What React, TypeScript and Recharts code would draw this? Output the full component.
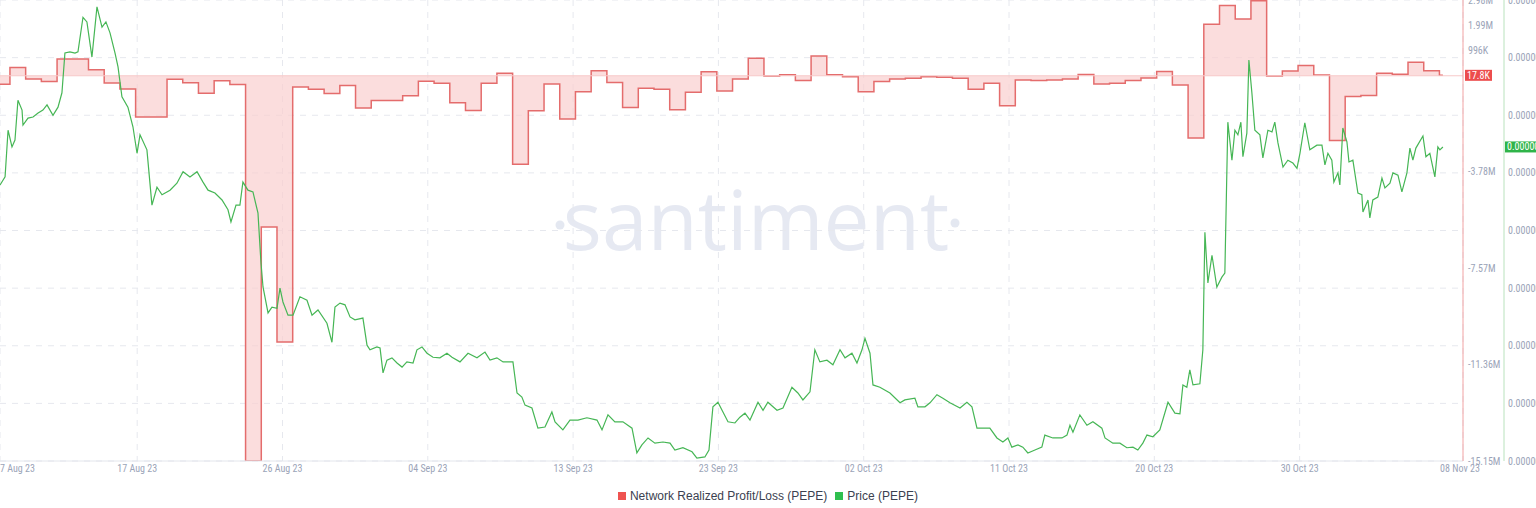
import { ComposedChart, Area, Line, XAxis, YAxis, CartesianGrid, ReferenceLine } from 'recharts'

// time is in days counted from 1 Aug 2023 00:00
const X_TICKS = [7.367, 16.1, 25.35, 34.6, 43.85, 53.1, 62.35, 71.6, 80.85, 90.1, 100.5]
const X_TICK_LABELS = ['07 Aug 23', '17 Aug 23', '26 Aug 23', '04 Sep 23', '13 Sep 23', '23 Sep 23', '02 Oct 23', '11 Oct 23', '20 Oct 23', '30 Oct 23', '08 Nov 23']

// Network Realized Profit/Loss, one value per day (millions), first day = 7
const PL_START_DAY = 7
const PL_END_DAY = 99.22
const PL_VALUES_M = [
  -0.33, 0.33, -0.13, -0.23, 0.66, 0.66, 0.24, -0.28, -0.52, -1.62,
  -1.62, -0.14, -0.27, -0.69, -0.2, -0.34, -15.15, -5.95, -10.47, -0.44,
  -0.53, -0.7, -0.38, -1.27, -0.97, -0.97, -0.79, -0.22, -0.29, -1.06,
  -1.37, -0.29, 0.1, -3.48, -1.38, -0.32, -1.7, -0.63, 0.2, -0.26,
  -1.25, -0.49, -0.53, -1.34, -0.65, 0.16, -0.6, -0.13, 0.69, -0.01,
  0.04, -0.19, 0.78, 0.04, -0.04, -0.63, -0.23, -0.13, -0.1, -0.04,
  -0.06, -0.1, -0.53, -0.29, -1.18, -0.17, -0.19, -0.17, -0.13, 0.05,
  -0.32, -0.29, -0.19, -0.09, 0.17, -0.36, -2.45, 2.03, 2.76, 2.23,
  2.95, -0.01, 0.19, 0.4, 0.03, -2.55, -0.82, -0.78, 0.1, 0.06,
  0.53, 0.2, 0.0178,
]

// Price (PEPE), in units of 1e-8 USD
const PRICE_DAYS = [
  7.37, 7.69, 7.88, 8.13, 8.32, 8.51, 8.77, 8.83, 9.15, 9.47,
  9.79, 10.1, 10.36, 10.74, 11.06, 11.31, 11.5, 11.82, 12.14, 12.33,
  12.65, 12.9, 13.22, 13.54, 13.86, 14.11, 14.37, 14.69, 14.88, 15.13,
  15.51, 15.83, 16.09, 16.28, 16.72, 17.04, 17.36, 17.68, 18.19, 18.63,
  19.02, 19.46, 19.91, 20.29, 20.61, 21.05, 21.5, 21.88, 22.07, 22.39,
  22.64, 22.83, 23.15, 23.47, 23.79, 23.98, 24.11, 24.43, 24.68, 25.0,
  25.19, 25.38, 25.7, 26.02, 26.46, 26.91, 27.23, 27.61, 28.18, 28.5,
  28.69, 29.01, 29.33, 29.65, 29.96, 30.47, 30.73, 30.92, 31.36, 31.56,
  31.75, 32.0, 32.32, 32.64, 32.96, 33.27, 33.66, 33.91, 34.23, 34.55,
  34.93, 35.37, 35.82, 36.14, 36.65, 37.16, 37.73, 38.24, 38.56, 39.0,
  39.39, 40.02, 40.28, 40.59, 40.79, 41.23, 41.61, 42.06, 42.5, 42.7,
  43.2, 43.65, 44.16, 44.73, 45.37, 45.69, 46.07, 46.51, 47.02, 47.6,
  47.91, 48.23, 48.62, 49.06, 49.57, 50.02, 50.33, 50.84, 51.42, 51.73,
  52.24, 52.5, 52.75, 53.07, 53.39, 53.71, 54.15, 54.47, 54.79, 55.11,
  55.62, 55.94, 56.25, 56.83, 57.21, 57.78, 58.16, 58.48, 58.93, 59.24,
  59.56, 60.01, 60.39, 60.84, 61.16, 61.6, 61.92, 62.24, 62.43, 62.75,
  62.94, 63.38, 64.02, 64.66, 64.97, 65.61, 65.8, 66.25, 66.57, 67.01,
  67.39, 67.84, 68.48, 68.92, 69.24, 69.56, 70.38, 70.83, 71.21, 71.53,
  71.78, 72.17, 72.48, 72.8, 73.25, 73.69, 73.88, 74.39, 74.97, 75.29,
  75.48, 75.67, 76.11, 76.56, 76.94, 77.51, 77.71, 78.21, 78.66, 79.1,
  79.49, 79.8, 80.12, 80.38, 80.76, 81.2, 81.72, 82.16, 82.48, 82.67,
  82.92, 83.11, 83.31, 83.75, 83.94, 84.07, 84.26, 84.52, 84.83, 85.15,
  85.34, 85.53, 85.79, 85.98, 86.17, 86.36, 86.49, 86.74, 86.87, 87.06,
  87.25, 87.57, 87.76, 88.08, 88.34, 88.52, 88.72, 89.04, 89.35, 89.67,
  89.93, 90.12, 90.43, 90.75, 91.2, 91.52, 91.71, 91.9, 92.15, 92.28,
  92.54, 92.66, 92.85, 93.11, 93.24, 93.49, 93.81, 94.06, 94.13, 94.45,
  94.57, 94.76, 95.08, 95.34, 95.53, 95.85, 96.04, 96.36, 96.61, 96.93,
  97.12, 97.31, 97.5, 97.95, 98.14, 98.39, 98.71, 98.9, 99.03, 99.22,
]
const PRICE_E8 = [
  107.9, 109.3, 117.4, 114.5, 115.7, 122.6, 120.9, 118.3, 119.5, 119.7,
  120.4, 120.9, 121.8, 120.0, 121.4, 123.9, 130.8, 131.0, 130.8, 131.0,
  137.0, 136.2, 130.1, 138.8, 135.3, 136.2, 134.3, 130.8, 128.4, 123.2,
  121.4, 118.0, 113.4, 116.6, 114.0, 104.4, 107.5, 106.2, 107.0, 108.2,
  110.2, 109.3, 110.2, 108.4, 107.0, 106.5, 105.3, 103.6, 101.5, 104.4,
  104.4, 108.4, 107.0, 106.7, 103.0, 94.4, 90.2, 85.7, 86.7, 86.5,
  90.0, 87.6, 85.3, 85.3, 88.5, 87.9, 85.3, 86.2, 83.9, 80.6,
  86.7, 87.4, 87.1, 85.0, 84.5, 84.8, 80.1, 79.3, 79.8, 79.6,
  75.3, 77.5, 77.9, 77.0, 76.3, 77.2, 77.0, 79.3, 79.8, 78.7,
  78.0, 77.9, 78.7, 78.0, 77.2, 78.7, 77.9, 78.9, 77.5, 77.9,
  77.2, 77.2, 71.8, 71.1, 69.7, 69.2, 65.7, 65.9, 68.5, 66.8,
  65.4, 67.1, 67.1, 67.5, 67.1, 65.4, 68.0, 66.8, 66.8, 65.7,
  61.4, 62.8, 64.0, 63.1, 63.3, 63.1, 61.9, 62.3, 61.6, 60.5,
  60.7, 61.9, 69.4, 70.2, 68.5, 66.8, 66.6, 67.6, 68.3, 67.1,
  70.2, 68.8, 70.2, 68.8, 69.2, 72.8, 71.8, 70.6, 72.0, 79.3,
  77.2, 77.5, 76.7, 79.3, 77.9, 78.7, 77.0, 79.3, 81.3, 78.7,
  73.2, 72.8, 71.8, 70.1, 70.6, 70.9, 69.4, 69.4, 70.1, 71.5,
  70.9, 70.1, 69.2, 70.2, 69.4, 65.7, 65.7, 64.0, 63.3, 64.0,
  62.4, 62.8, 62.4, 61.4, 61.9, 62.4, 64.5, 64.0, 64.0, 64.5,
  66.2, 65.0, 68.0, 66.2, 66.8, 65.7, 64.0, 63.1, 63.1, 62.3,
  62.4, 61.9, 63.1, 64.5, 64.2, 65.4, 70.2, 68.3, 68.2, 73.2,
  72.8, 75.8, 73.2, 73.4, 79.3, 99.7, 90.9, 95.7, 90.2, 91.9,
  92.6, 118.8, 112.2, 117.4, 116.6, 118.8, 112.8, 116.9, 129.6, 123.9,
  117.4, 116.6, 112.6, 117.4, 117.1, 118.8, 115.2, 111.0, 112.2, 111.7,
  110.8, 113.4, 118.7, 114.0, 114.8, 114.8, 111.4, 113.4, 112.2, 108.4,
  110.0, 107.9, 117.8, 115.4, 111.9, 112.2, 106.5, 106.2, 103.2, 105.3,
  102.2, 105.3, 105.8, 109.1, 107.4, 108.2, 110.0, 109.6, 106.7, 110.0,
  114.3, 112.2, 114.3, 116.4, 112.8, 113.4, 109.3, 114.5, 114.0, 114.5,
]

const PL_TICKS = [-15.15e6, -11.36e6, -7.57e6, -3.78e6, 996e3, 1.99e6, 2.98e6]
const PL_TICK_LABELS = ['-15.15M', '-11.36M', '-7.57M', '-3.78M', '996K', '1.99M', '2.98M']
const PRICE_TICKS_E8 = [60, 70, 80, 90, 100, 110, 120, 130, 140]

const plData = PL_VALUES_M.map((v, i) => ({ t: PL_START_DAY + i, pl: v * 1e6 }))
plData.push({ t: PL_END_DAY, pl: PL_VALUES_M[PL_VALUES_M.length - 1] * 1e6 })
const priceData = PRICE_DAYS.map((t, i) => ({ t, price: PRICE_E8[i] * 1e-8 }))
const lastPl = PL_VALUES_M[PL_VALUES_M.length - 1] * 1e6
const lastPrice = PRICE_E8[PRICE_E8.length - 1] * 1e-8

const AXIS_FONT = "'Liberation Sans Narrow', 'Roboto Condensed', 'DejaVu Sans Condensed', 'Liberation Sans', sans-serif"
const TICK_COLOR = '#9ba4b8'
const RED = '#e46c6c'
const GREEN = '#46b655'

function DateTick(props: any) {
  const { x, y, payload, index } = props
  const i = X_TICKS.indexOf(payload.value)
  const dx = index === 0 ? 15 : i === X_TICKS.length - 1 ? -3 : 0
  return (
    <text x={x + dx} y={y} dy={8} textAnchor="middle" fill={TICK_COLOR} fontSize={10} fontFamily={AXIS_FONT}>
      {i >= 0 ? X_TICK_LABELS[i] : ''}
    </text>
  )
}

function Badge(props: any) {
  const { viewBox, text, offset, bg, width } = props
  if (!viewBox) return null
  const x = viewBox.x + viewBox.width + offset
  const y = viewBox.y
  return (
    <g>
      <rect x={x} y={y - 5.5} width={width} height={11} fill={bg} />
      <text x={x + 2} y={y + 3.5} fill="#fff" fontSize={10} fontFamily={AXIS_FONT}>{text}</text>
    </g>
  )
}

export default function App() {
  return (
    <div style={{ position: 'absolute', left: 0, top: 0, width: 1536, height: 508, overflow: 'hidden', background: '#fff' }}>
      <svg width={1536} height={508} style={{ position: 'absolute', left: 0, top: 0 }}>
        <circle cx={560} cy={225} r={4.5} fill="#e4e8f1" />
        <text x={756} y={250} textAnchor="middle" fontSize={82} fontWeight={400} fontFamily="'Open Sans', sans-serif" fill="#e6e9f2">santiment</text>
        <circle cx={955} cy={223} r={4.5} fill="#e4e8f1" />
      </svg>
      <div style={{ position: 'absolute', left: 0, top: 0 }}>
        <ComposedChart width={1564} height={481} margin={{ top: 0, right: 0, bottom: 0, left: 0 }}>
          <CartesianGrid yAxisId="price" strokeDasharray="6 6" stroke="#e6e8ee" />
          <XAxis
            type="number"
            dataKey="t"
            domain={[7.367, 100.5]}
            ticks={X_TICKS}
            allowDataOverflow
            height={20}
            tickLine={false}
            tickSize={0}
            tickMargin={3}
            axisLine={{ stroke: '#e3e6ec' }}
            tick={<DateTick />}
            interval={0}
          />
          <YAxis
            yAxisId="pl"
            orientation="right"
            width={41}
            domain={[-15.15e6, 2.98e6]}
            ticks={PL_TICKS}
            allowDataOverflow
            tickLine={false}
            tickSize={0}
            tickMargin={5}
            interval={0}
            axisLine={{ stroke: '#f2a3a3' }}
            tick={{ fill: TICK_COLOR, fontSize: 10, fontFamily: AXIS_FONT, textAnchor: 'start' }}
            tickFormatter={(v: number) => PL_TICK_LABELS[PL_TICKS.indexOf(v)] ?? ''}
          />
          <YAxis
            yAxisId="price"
            orientation="right"
            width={60}
            domain={[60e-8, 140e-8]}
            ticks={PRICE_TICKS_E8.map((v) => v * 1e-8)}
            allowDataOverflow
            tickLine={false}
            tickSize={0}
            tickMargin={4}
            interval={0}
            axisLine={{ stroke: '#b9e2bd' }}
            tick={{ fill: TICK_COLOR, fontSize: 10, fontFamily: AXIS_FONT, textAnchor: 'start' }}
            tickFormatter={(v: number) => v.toFixed(8)}
          />
          <ReferenceLine yAxisId="pl" y={0} stroke="#f7c9c9" />
          <Area
            yAxisId="pl"
            data={plData}
            dataKey="pl"
            type="stepAfter"
            baseValue={0}
            stroke={RED}
            strokeWidth={1.5}
            fill="#f9cfcf"
            fillOpacity={0.7}
            isAnimationActive={false}
            dot={false}
            activeDot={false}
          />
          <Line
            yAxisId="price"
            data={priceData}
            dataKey="price"
            type="linear"
            stroke={GREEN}
            strokeWidth={1.2}
            dot={false}
            activeDot={false}
            isAnimationActive={false}
          />
          <ReferenceLine
            yAxisId="pl"
            y={lastPl}
            stroke="none"
            label={(p: any) => <Badge {...p} text="17.8K" offset={2} bg="#ec4d4d" width={27} />}
          />
          <ReferenceLine
            yAxisId="price"
            y={lastPrice}
            stroke="none"
            label={(p: any) => <Badge {...p} text={lastPrice.toFixed(8)} offset={42} bg="#2fb449" width={50} />}
          />
        </ComposedChart>
      </div>
      <div
        style={{
          position: 'absolute',
          left: 0,
          top: 489,
          width: 1536,
          display: 'flex',
          justifyContent: 'center',
          alignItems: 'center',
          fontFamily: "'Liberation Sans', Arial, sans-serif",
          fontSize: 12,
          color: '#3b4150',
        }}
      >
        <span style={{ display: 'inline-block', width: 8, height: 8, background: '#ef5350', marginRight: 4 }} />
        <span style={{ marginRight: 8 }}>Network Realized Profit/Loss (PEPE)</span>
        <span style={{ display: 'inline-block', width: 8, height: 8, background: '#2fbf4f', marginRight: 4 }} />
        <span>Price (PEPE)</span>
      </div>
    </div>
  )
}
